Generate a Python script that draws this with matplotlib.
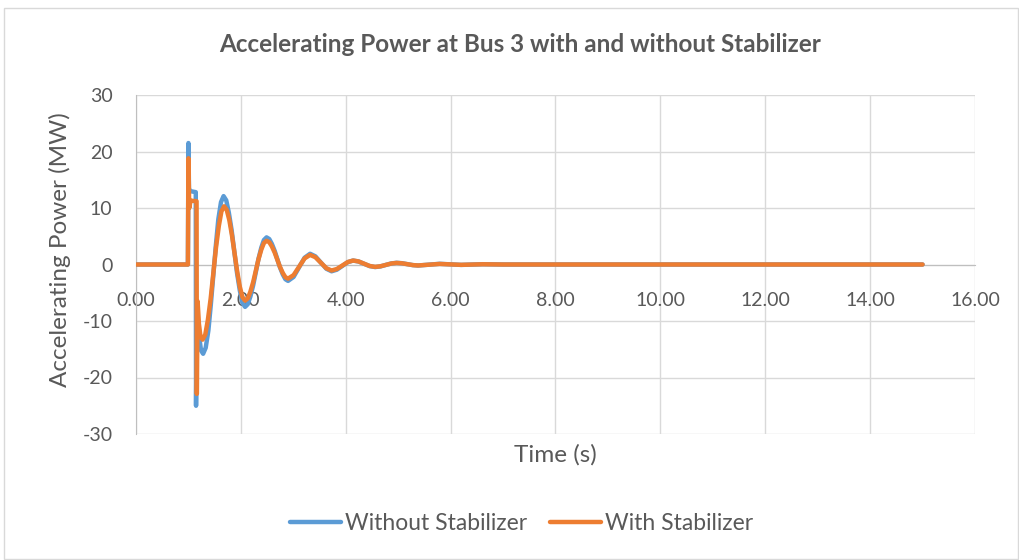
import matplotlib
matplotlib.use("Agg")
import matplotlib.pyplot as plt
from matplotlib.patches import Rectangle

# ---- data ----
t_without = [0.0, 0.99, 1.0, 1.01, 1.03, 1.14, 1.145, 1.16, 1.20, 1.24, 1.28,
             1.329, 1.38, 1.426, 1.475, 1.524, 1.57, 1.621, 1.67,
             1.721, 1.77, 1.824, 1.875, 1.926, 1.98, 2.029, 2.08,
             2.131, 2.18, 2.234, 2.285, 2.336, 2.39, 2.439, 2.49,
             2.541, 2.59, 2.644, 2.695, 2.746, 2.80, 2.849, 2.90,
             3.005, 3.11, 3.215, 3.32, 3.42, 3.525,
             3.63, 3.73, 3.83, 3.935, 4.04, 4.14, 4.245, 4.35, 4.455, 4.56, 4.66,
             4.765, 4.87, 4.97, 5.07, 5.175, 5.28, 5.38, 5.79, 6.20, 6.61, 7.0, 15.0]
p_without = [0.0, 0.0, 21.5, 13.5, 13.0, 12.8, -25.0, -7.5, -12.5, -15.2, -15.8,
             -14.74, -11.7, -7.19, -1.85, 3.49, 8.0, 11.04, 12.1,
             11.36, 9.2, 6.05, 2.3, -1.45, -4.6, -6.76, -7.5,
             -7.03, -5.7, -3.7, -1.35, 1.0, 3.0, 4.33, 4.8,
             4.51, 3.67, 2.42, 0.95, -0.52, -1.77, -2.61, -2.9,
             -2.2, -0.5, 1.2, 1.9, 1.45, 0.35,
             -0.75, -1.2, -0.92, -0.25, 0.42, 0.7, 0.53, 0.125, -0.28, -0.45, -0.34,
             -0.075, 0.19, 0.3, 0.23, 0.06, -0.11, -0.18, 0.12, -0.07, 0.05, 0.0, 0.0]

t_with = [0.0, 0.99, 1.0, 1.015, 1.04, 1.155, 1.16, 1.175, 1.20, 1.23, 1.27,
          1.321, 1.37, 1.424, 1.475, 1.526, 1.58, 1.629, 1.68,
          1.73, 1.78, 1.83, 1.88, 1.93, 1.98, 2.03, 2.08,
          2.131, 2.18, 2.234, 2.285, 2.336, 2.39, 2.439, 2.49,
          2.541, 2.59, 2.644, 2.695, 2.746, 2.80, 2.849, 2.90,
          3.005, 3.11, 3.215, 3.32, 3.42, 3.525,
          3.63, 3.73, 3.83, 3.935, 4.04, 4.14, 4.245, 4.35, 4.455, 4.56, 4.66,
          4.765, 4.87, 4.97, 5.07, 5.175, 5.28, 5.38, 5.79, 6.20, 6.61, 7.0, 15.0]
p_with = [0.0, 0.0, 18.8, 10.0, 11.3, 11.2, -22.9, -6.5, -10.5, -12.8, -13.3,
          -12.4, -9.84, -6.02, -1.5, 3.02, 6.84, 9.4, 10.3,
          9.67, 7.85, 5.15, 1.95, -1.25, -3.95, -5.77, -6.4,
          -6.0, -4.85, -3.13, -1.1, 0.93, 2.65, 3.8, 4.2,
          3.95, 3.22, 2.13, 0.85, -0.43, -1.52, -2.25, -2.5,
          -1.88, -0.4, 1.08, 1.7, 1.3, 0.32,
          -0.66, -1.06, -0.8, -0.18, 0.44, 0.7, 0.54, 0.14, -0.26, -0.42, -0.32,
          -0.07, 0.18, 0.28, 0.215, 0.055, -0.105, -0.17, 0.1, -0.06, 0.04, 0.0, 0.0]

series_names = ["Without Stabilizer", "With Stabilizer"]
x_ticks = [0, 2, 4, 6, 8, 10, 12, 14, 16]
y_ticks = [-30, -20, -10, 0, 10, 20, 30]

# ---- style ----
plt.rcParams['font.family'] = ['Lato', 'DejaVu Sans']
TXT = '#595959'
BLUE = '#5B9BD5'
ORANGE = '#ED7D31'
GRID = '#D9D9D9'

W, H = 1020, 560
fig = plt.figure(figsize=(W / 100, H / 100), dpi=100)
fig.patch.set_facecolor('white')
fig.patches.append(Rectangle((4 / W, 1 / H), (W - 6) / W, (H - 9) / H,
                             transform=fig.transFigure, fill=False,
                             edgecolor='#D9D9D9', linewidth=1))

ax = fig.add_axes([136 / W, 1 - 434 / H, (975 - 136) / W, (434 - 95) / H])
ax.plot(t_without, p_without, color=BLUE, lw=3.2, label=series_names[0],
        solid_joinstyle='round', solid_capstyle='round', zorder=3)
ax.plot(t_with, p_with, color=ORANGE, lw=3.2, label=series_names[1],
        solid_joinstyle='round', solid_capstyle='round', zorder=4)

ax.set_xlim(0, 16)
ax.set_ylim(-30, 30)
ax.set_xticks(x_ticks)
ax.set_xticklabels([f"{v:.2f}" for v in x_ticks])
ax.set_yticks(y_ticks)
ax.set_yticklabels([str(v) for v in y_ticks])
ax.grid(True, color=GRID, lw=1)
ax.set_axisbelow(True)

for s in ['top', 'right']:
    ax.spines[s].set_visible(False)
ax.spines['left'].set_color('#BFBFBF')
ax.spines['bottom'].set_color('#BFBFBF')
ax.spines['bottom'].set_position(('data', 0))
ax.spines['bottom'].set_zorder(2)
ax.tick_params(axis='both', length=0, labelsize=14, labelcolor=TXT)
ax.tick_params(axis='x', pad=20)
ax.tick_params(axis='y', pad=17)

fig.text(520 / W, 1 - 45 / H, "Accelerating Power at Bus 3 with and without Stabilizer",
         ha='center', va='center', fontsize=17.5, fontweight='bold', color=TXT)
fig.text(555 / W, 1 - 455 / H, "Time (s)", ha='center', va='center',
         fontsize=17.5, color=TXT)
fig.text(60 / W, 1 - 250 / H, "Accelerating Power (MW)", ha='center', va='center',
         rotation=90, fontsize=17.5, color=TXT)

leg = fig.legend(loc='center', bbox_to_anchor=(522 / W, 1 - 524 / H), ncol=2,
                 frameon=False, fontsize=16.5, handlelength=2.2, handletextpad=0.2,
                 columnspacing=1.0)
for txt in leg.get_texts():
    txt.set_color(TXT)

fig.savefig("out.png", dpi=100, facecolor='white')
